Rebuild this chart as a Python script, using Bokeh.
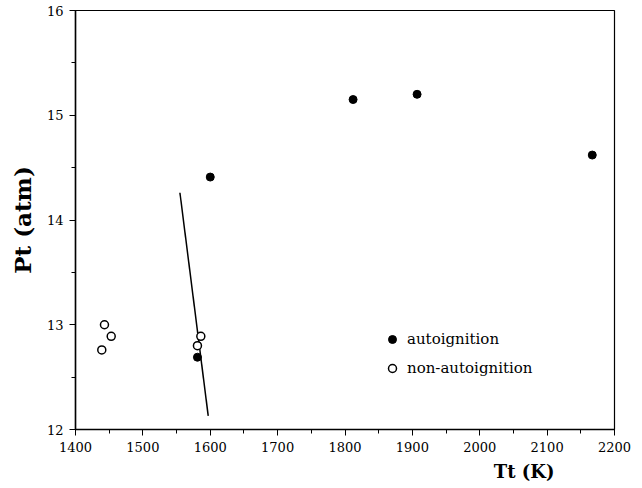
from bokeh.plotting import figure
from bokeh.embed import file_html
from bokeh.resources import INLINE
from bokeh.models import Legend, LegendItem, Title, SingleIntervalTicker

# data
auto_T = [1600, 1812, 1907, 2167, 1581]
auto_P = [14.41, 15.15, 15.20, 14.62, 12.69]
non_T = [1439, 1443, 1453, 1581, 1586]
non_P = [12.76, 13.00, 12.89, 12.80, 12.89]
line_T = [1555, 1597]
line_P = [14.26, 12.13]

FONT = "DejaVu Serif"

p = figure(width=642, height=488, x_range=(1400, 2200), y_range=(12, 16),
           output_backend="svg", toolbar_location=None,
           min_border_left=75, min_border_right=28, min_border_top=10, min_border_bottom=59)
p.background_fill_color = "white"
p.border_fill_color = "white"
p.outline_line_color = "black"
p.outline_line_width = 1.2
p.xgrid.visible = False
p.ygrid.visible = False

p.xaxis.ticker = SingleIntervalTicker(interval=100, num_minor_ticks=2)
p.yaxis.ticker = SingleIntervalTicker(interval=1, num_minor_ticks=2)
for ax in (p.xaxis, p.yaxis):
    ax.axis_line_color = "black"
    ax.axis_line_width = 1.5
    ax.major_tick_line_color = "black"
    ax.minor_tick_line_color = "black"
    ax.major_tick_out = 6
    ax.major_tick_in = 0
    ax.minor_tick_out = 4
    ax.minor_tick_in = 0
    ax.major_label_text_font = FONT
    ax.major_label_text_font_size = "13px"
    ax.major_label_text_color = "black"
p.xaxis.major_label_standoff = 6
p.yaxis.major_label_standoff = 6

p.yaxis.axis_label = "Pt (atm)"
p.yaxis.axis_label_text_font = FONT
p.yaxis.axis_label_text_font_style = "bold"
p.yaxis.axis_label_text_font_size = "23px"
p.yaxis.axis_label_text_color = "black"
p.yaxis.axis_label_standoff = 8

t = Title(text="Tt (K)", align="right", text_font=FONT, text_font_style="bold",
          text_font_size="18px", text_color="black", offset=60, standoff=8)
p.add_layout(t, "below")

ln = p.line(line_T, line_P, line_color="black", line_width=1.5)
r_auto = p.scatter(auto_T, auto_P, marker="circle", size=8, fill_color="black", line_color="black")
r_non = p.scatter(non_T, non_P, marker="circle", size=8, fill_color="white", line_color="black", line_width=1.5)

leg = Legend(items=[LegendItem(label="autoignition", renderers=[r_auto]),
                    LegendItem(label="non-autoignition", renderers=[r_non])],
             location=(307, 51), border_line_color=None, background_fill_alpha=0,
             label_text_font=FONT, label_text_font_size="15px", label_text_color="black",
             glyph_width=20, glyph_height=20, label_height=20, label_standoff=5,
             spacing=9, padding=0, margin=0)
p.add_layout(leg)

open("out.html", "w").write(file_html(p, INLINE))
